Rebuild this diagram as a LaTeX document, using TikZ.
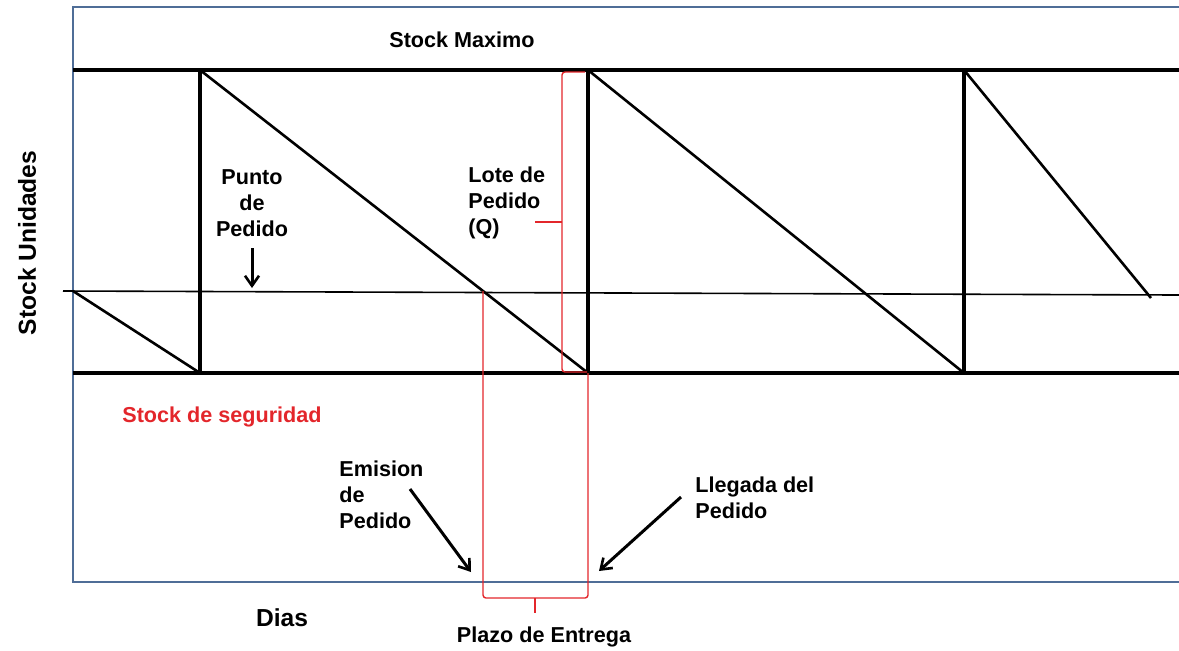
\documentclass[tikz,border=0pt]{standalone}
\usepackage{fontspec}
\setmainfont{Liberation Sans}
\usetikzlibrary{arrows.meta}
\definecolor{framec}{HTML}{4F6D97}
\definecolor{bred}{HTML}{E3262B}
\begin{document}
\begin{tikzpicture}[x=0.5pt,y=-0.5pt,
  lbl/.style={font=\bfseries\fontsize{10.8}{13}\selectfont, inner sep=0pt, align=center},
  lblleft/.style={lbl, align=left, anchor=west},
  biglbl/.style={font=\bfseries\fontsize{12.3}{14}\selectfont, inner sep=0pt},
  frameline/.style={framec, line width=1.2pt},
  levelline/.style={line width=1.6pt},
  vertline/.style={line width=2pt},
  diagline/.style={line width=1.3pt},
  rpline/.style={line width=0.8pt},
  redbrace/.style={bred, line width=0.7pt, rounded corners=1.5pt},
  callout/.style={line width=1.5pt, -{Straight Barb[length=5pt,width=7pt,line width=1.3pt]}}
]
\useasboundingbox (0,0) rectangle (1179,650);
% frame
\coordinate (fTR) at (1179,7);
\coordinate (fTL) at (73,7);
\coordinate (fBL) at (73,582);
\coordinate (fBR) at (1179,582);
\draw[frameline] (fTR) -- (fTL) -- (fBL) -- (fBR);
% levels
\coordinate (maxL) at (73,70);
\coordinate (maxR) at (1179,70);
\coordinate (minL) at (73,373);
\coordinate (minR) at (1179,373);
\coordinate (rpL) at (63,291);
\coordinate (rpR) at (1179,295);
\draw[levelline] (maxL) -- (maxR);
\draw[levelline] (minL) -- (minR);
\draw[rpline] (rpL) -- (rpR);
% sawtooth
\coordinate (s0) at (73,291);
\coordinate (b1) at (200,373);
\coordinate (t1) at (200,70);
\coordinate (b2) at (588,373);
\coordinate (t2) at (588,70);
\coordinate (b3) at (964,373);
\coordinate (t3) at (964,70);
\coordinate (e4) at (1151,298);
\coordinate (emis) at (483,291);
\draw[diagline] (s0) -- (b1);
\draw[vertline] (b1) -- (t1);
\draw[diagline] (t1) -- (b2);
\draw[vertline] (b2) -- (t2);
\draw[diagline] (t2) -- (b3);
\draw[vertline] (b3) -- (t3);
\draw[diagline] (t3) -- (e4);
% red braces
\coordinate (qTop) at (585,72);
\coordinate (qBot) at (587,372);
\coordinate (qTip) at (535,222);
\draw[redbrace] (qTop) -| (562,222) |- (qBot);
\draw[bred, line width=0.7pt] (562,222) -- (qTip);
\coordinate (lTip) at (535,613);
\draw[redbrace] (emis) |- (535,598) -| (b2);
\draw[bred, line width=0.7pt] (535,598) -- (lTip);
% labels
\node[lbl] (smax) at (462,40) {Stock Maximo};
\node[lbl] (punto) at (252,203) {Punto\\de\\Pedido};
\node[lblleft] (lote) at (468,203) {Lote de\\Pedido\\(Q)};
\node[biglbl, rotate=90] (yax) at (27,243) {Stock Unidades};
\node[lbl, text=bred] (sseg) at (222,417) {Stock de seguridad};
\node[lblleft] (emisl) at (339,495) {Emision\\de\\Pedido};
\node[lblleft] (lleg) at (695,498) {Llegada del\\Pedido};
\node[biglbl] (dias) at (282,618) {Dias};
\node[lbl] (plazo) at (544,637) {Plazo de Entrega};
% callout arrows
\coordinate (pA) at (252,248);
\coordinate (pB) at (252,288);
\draw[callout] (pA) -- (pB);
\coordinate (eA) at (410,489);
\coordinate (eB) at (471,572);
\draw[callout] (eA) -- (eB);
\coordinate (lA) at (681,497);
\coordinate (lB) at (599,571);
\draw[callout] (lA) -- (lB);
\end{tikzpicture}
\end{document}
